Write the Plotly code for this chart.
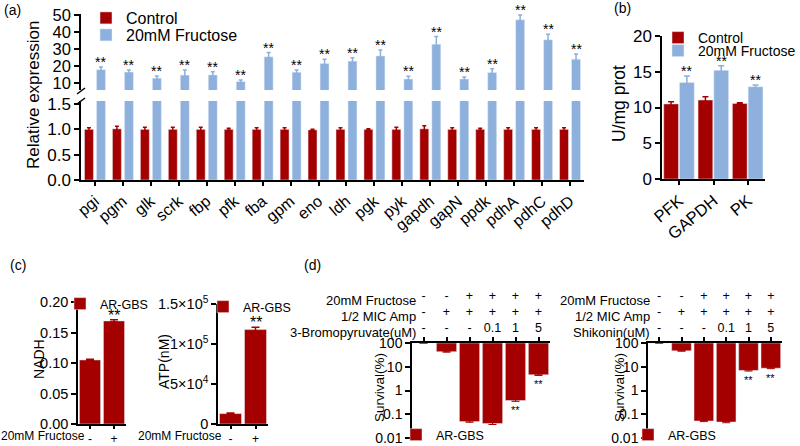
import plotly.graph_objects as go
import math

RED = "#A50000"
BLUE = "#8DB0DC"
FONT = "Liberation Sans, Arial, sans-serif"

# ---------------- data ----------------
genes = ["pgi", "pgm", "glk", "scrk", "fbp", "pfk", "fba", "gpm", "eno", "ldh",
         "pgk", "pyk", "gapdh", "gapN", "ppdk", "pdhA", "pdhC", "pdhD"]
ctrl_a = [1.00, 1.01, 1.00, 1.00, 1.00, 1.00, 1.00, 1.00, 0.99, 1.00,
          1.00, 1.00, 1.01, 1.00, 1.00, 1.00, 1.00, 1.00]
ctrl_a_err = [0.03, 0.05, 0.04, 0.04, 0.04, 0.02, 0.03, 0.03, 0.01, 0.03,
              0.01, 0.04, 0.06, 0.03, 0.02, 0.03, 0.03, 0.03]
fru_a = [18.0, 16.6, 13.0, 14.8, 14.9, 11.0, 25.5, 16.5, 21.6, 23.0,
         26.0, 12.5, 32.9, 12.5, 16.3, 47.2, 35.5, 24.1]
fru_a_err = [1.6, 1.2, 1.3, 3.0, 1.8, 1.0, 2.5, 1.3, 2.5, 2.0,
             3.5, 1.6, 4.5, 1.2, 2.2, 2.8, 3.2, 3.0]

enzymes = ["PFK", "GAPDH", "PK"]
ctrl_b = [10.5, 11.05, 10.55]
ctrl_b_err = [0.3, 0.45, 0.1]
fru_b = [13.5, 15.2, 12.9]
fru_b_err = [0.9, 0.65, 0.25]

fru_c = ["-", "+"]
nadh = [0.105, 0.169]
nadh_err = [0.001, 0.002]
atp = [13000, 118000]
atp_err = [800, 3000]

row_fru = ["-", "-", "+", "+", "+", "+"]
row_amp = ["-", "+", "+", "+", "+", "+"]
row_bp = ["-", "-", "-", "0.1", "1", "5"]
row_shk = ["-", "-", "-", "0.1", "1", "5"]
surv_bp = [100, 43, 0.049, 0.041, 0.38, 4.6]
surv_bp_err = [0, 2, 0.003, 0.004, 0.03, 0.3]
surv_shk = [100, 47, 0.052, 0.047, 7.0, 8.7]
surv_shk_err = [0, 2, 0.003, 0.003, 0.4, 0.4]
surv_ticks = [0.01, 0.1, 1, 10, 100]
surv_tick_text = ["0.01", "0.1", "1", "10", "100"]


def X(px):
    return px / 800.0


def Y(py):
    return 1 - py / 446.0


fig = go.Figure()

# ---------------- panel a ----------------
fig.add_trace(go.Bar(x=genes, y=ctrl_a, offset=-0.375, width=0.32, marker=dict(color=RED),
                     error_y=dict(type="data", array=ctrl_a_err, color=RED, thickness=1.5, width=2),
                     name="Control", legend="legend", xaxis="x", yaxis="y"))
fig.add_trace(go.Bar(x=genes, y=fru_a, offset=0.055, width=0.32, marker=dict(color=BLUE),
                     name="20mM Fructose", showlegend=False, xaxis="x", yaxis="y"))
fig.add_trace(go.Bar(x=genes, y=fru_a, offset=0.055, width=0.32, marker=dict(color=BLUE),
                     error_y=dict(type="data", array=fru_a_err, color=BLUE, thickness=1.5, width=2),
                     name="20mM Fructose", legend="legend2", xaxis="x", yaxis="y2"))

# ---------------- panel b ----------------
fig.add_trace(go.Bar(x=enzymes, y=ctrl_b, offset=-0.45, width=0.43, marker=dict(color=RED),
                     error_y=dict(type="data", array=ctrl_b_err, color=RED, thickness=1.5, width=3),
                     name="Control", legend="legend3", xaxis="x3", yaxis="y3"))
fig.add_trace(go.Bar(x=enzymes, y=fru_b, offset=0.01, width=0.43, marker=dict(color=BLUE),
                     error_y=dict(type="data", array=fru_b_err, color=BLUE, thickness=1.5, width=3),
                     name="20mM Fructose", legend="legend4", xaxis="x3", yaxis="y3"))

# ---------------- panel c ----------------
fig.add_trace(go.Bar(x=[0, 1], y=nadh, width=0.88, marker=dict(color=RED),
                     error_y=dict(type="data", array=nadh_err, color=RED, thickness=1.5, width=4),
                     name="AR-GBS", legend="legend5", xaxis="x4", yaxis="y4"))
fig.add_trace(go.Bar(x=[0, 1], y=atp, width=0.88, marker=dict(color=RED),
                     error_y=dict(type="data", array=atp_err, color=RED, thickness=1.5, width=4),
                     name="AR-GBS", legend="legend6", xaxis="x5", yaxis="y5"))

# ---------------- panel d ----------------
fig.add_trace(go.Bar(x=list(range(6)), y=[v - 100 for v in surv_bp], base=[100] * 6, width=0.88,
                     marker=dict(color=RED),
                     error_y=dict(type="data", array=surv_bp_err, color=RED, thickness=1, width=4),
                     name="AR-GBS", legend="legend7", xaxis="x6", yaxis="y6"))
fig.add_trace(go.Bar(x=list(range(6)), y=[v - 100 for v in surv_shk], base=[100] * 6, width=0.88,
                     marker=dict(color=RED),
                     error_y=dict(type="data", array=surv_shk_err, color=RED, thickness=1, width=4),
                     name="AR-GBS", legend="legend8", xaxis="x7", yaxis="y7"))

AX = dict(showline=True, linecolor="black", linewidth=1.5, ticks="outside", ticklen=5,
          tickwidth=1.5, tickcolor="black", showgrid=False, zeroline=False,
          tickfont=dict(color="black"))


def ax(**kw):
    d = dict(AX)
    tf = kw.pop("tickfont_size", None)
    if tf:
        d["tickfont"] = dict(color="black", size=tf)
    d.update(kw)
    return d


fig.update_layout(
    width=800, height=446, margin=dict(l=0, r=0, t=0, b=0, autoexpand=False),
    paper_bgcolor="white", plot_bgcolor="white",
    font=dict(family=FONT, color="black"),
    barmode="overlay",
    xaxis=ax(domain=[X(81), X(584)], type="category", categoryorder="array", categoryarray=genes,
             range=[-0.5, 17.5], anchor="y", tickangle=-40, ticklen=4, tickfont_size=16),
    yaxis=ax(domain=[Y(180), Y(101)], range=[0, 1.56], tickvals=[0, 0.5, 1.0, 1.5],
             tickformat=".1f", anchor="x", tickfont_size=17),
    yaxis2=ax(domain=[Y(90), Y(14)], range=[6.08, 50.6], tickvals=[10, 20, 30, 40, 50],
              anchor="x", tickfont_size=16.5),
    xaxis3=ax(domain=[X(662), X(765)], type="category", categoryorder="array", categoryarray=enzymes,
              range=[-0.5, 2.5], anchor="y3", tickangle=-40, ticklen=4, tickfont_size=16.5),
    yaxis3=ax(domain=[Y(179), Y(36)], range=[0, 20], dtick=5, anchor="x3", tickfont_size=17),
    xaxis4=ax(domain=[X(78), X(126)], range=[-0.5, 1.5], tickvals=[0, 1], ticktext=fru_c,
              anchor="y4", ticklen=3, tickfont_size=12),
    yaxis4=ax(domain=[Y(424), Y(302)], range=[0, 0.2], tickvals=[0, 0.05, 0.10, 0.15, 0.20],
              tickformat=".2f", anchor="x4", tickfont_size=14.5),
    xaxis5=ax(domain=[X(218), X(268)], range=[-0.5, 1.5], tickvals=[0, 1], ticktext=fru_c,
              anchor="y5", ticklen=3, tickfont_size=12),
    yaxis5=ax(domain=[Y(424), Y(304)], range=[0, 150000], tickvals=[0, 50000, 100000, 150000],
              ticktext=["0", "5×10<sup>4</sup>", "1×10<sup>5</sup>", "1.5×10<sup>5</sup>"],
              anchor="x5", tickfont_size=14.5),
    xaxis6=ax(domain=[X(412), X(550)], range=[-0.5, 5.5], side="top", anchor="y6",
              tickvals=list(range(6)), ticklen=4,
              ticktext=[f"{a}<br>{b}<br>{c}" for a, b, c in zip(row_fru, row_amp, row_bp)],
              tickfont_size=12.5),
    yaxis6=ax(domain=[Y(438), Y(343)], type="log", range=[-2, 2], tickvals=surv_ticks,
              ticktext=surv_tick_text, anchor="x6", tickfont_size=14),
    xaxis7=ax(domain=[X(648), X(782)], range=[-0.5, 5.5], side="top", anchor="y7",
              tickvals=list(range(6)), ticklen=4,
              ticktext=[f"{a}<br>{b}<br>{c}" for a, b, c in zip(row_fru, row_amp, row_shk)],
              tickfont_size=12.5),
    yaxis7=ax(domain=[Y(438), Y(343)], type="log", range=[-2, 2], tickvals=surv_ticks,
              ticktext=surv_tick_text, anchor="x7", tickfont_size=14),
)

LEG = dict(xanchor="left", yanchor="middle", bgcolor="rgba(0,0,0,0)", itemwidth=30,
           tracegroupgap=0, borderwidth=0)


def leg(px, py, size):
    d = dict(LEG)
    d.update(x=X(px), y=Y(py), font=dict(size=size, family=FONT, color="black"))
    return d


fig.update_layout(
    legend=leg(86, 18, 16), legend2=leg(86, 35, 16),
    legend3=leg(658, 38, 14), legend4=leg(658, 51, 14),
    legend5=leg(60, 304, 12.5), legend6=leg(203, 307, 12.5),
    legend7=leg(396, 435, 12.5), legend8=leg(628, 435, 12.5),
)

ann = []
for i, (v, e) in enumerate(zip(fru_a, fru_a_err)):
    ann.append(dict(x=i + 0.215, y=v + e, xref="x", yref="y2", text="**", showarrow=False,
                    yanchor="bottom", yshift=-5, font=dict(size=14)))
for i, (v, e) in enumerate(zip(fru_b, fru_b_err)):
    ann.append(dict(x=i + 0.225, y=v + e, xref="x3", yref="y3", text="**", showarrow=False,
                    yanchor="bottom", yshift=-5, font=dict(size=14)))
ann.append(dict(x=1, y=nadh[1] + nadh_err[1], xref="x4", yref="y4", text="**", showarrow=False,
                yanchor="bottom", yshift=-6, font=dict(size=16)))
ann.append(dict(x=1, y=atp[1] + atp_err[1], xref="x5", yref="y5", text="**", showarrow=False,
                yanchor="bottom", yshift=-6, font=dict(size=16)))
for i in (4, 5):
    ann.append(dict(x=i, y=math.log10(surv_bp[i] - surv_bp_err[i]), xref="x6", yref="y6",
                    text="**", showarrow=False, yanchor="top", yshift=-1, font=dict(size=11)))
    ann.append(dict(x=i, y=math.log10(surv_shk[i] - surv_shk_err[i]), xref="x7", yref="y7",
                    text="**", showarrow=False, yanchor="top", yshift=-1, font=dict(size=11)))


def title(px, py, text, size):
    return dict(x=X(px), y=Y(py), xref="paper", yref="paper", text=text, showarrow=False,
                textangle=-90, xanchor="center", yanchor="middle", font=dict(size=size))


ann += [
    title(33, 95, "Relative expression", 17),
    title(619, 104, "U/mg prot", 17.5),
    title(39, 359, "NADH", 14),
    title(164, 362, "ATP(nM)", 14),
    title(379, 388, "Survival(%)", 13.5),
    title(619, 388, "Survival(%)", 13.5),
]


def rl(px, py, text, size=13):
    return dict(x=X(px), y=Y(py), xref="paper", yref="paper", text=text, showarrow=False,
                xanchor="right", yanchor="middle", font=dict(size=size))


ann += [
    rl(87, 436, "20mM Fructose", 12), rl(224, 436, "20mM Fructose", 12),
    rl(418, 300, "20mM Fructose"), rl(418, 316, "1/2 MIC Amp"), rl(418, 332, "3-Bromopyruvate(uM)"),
    rl(652, 300, "20mM Fructose"), rl(652, 316, "1/2 MIC Amp"), rl(652, 332, "Shikonin(uM)"),
]

for px, py, t in [(2, 10, "(a)"), (612, 8, "(b)"), (8, 265, "(c)"), (302, 265, "(d)")]:
    ann.append(dict(x=X(px), y=Y(py), xref="paper", yref="paper", text=t, showarrow=False,
                    xanchor="left", yanchor="middle", font=dict(size=14)))

fig.update_layout(annotations=ann)

shapes = []
for y0, y1 in [(94, 88), (104, 98)]:
    shapes.append(dict(type="line", xref="paper", yref="paper", x0=X(77), x1=X(85),
                       y0=Y(y0), y1=Y(y1), line=dict(color="black", width=1.5)))
fig.update_layout(shapes=shapes)

fig.write_html("out.html", config={"displayModeBar": False},
               post_script="document.body.style.margin='0px';document.body.style.overflow='hidden';")
